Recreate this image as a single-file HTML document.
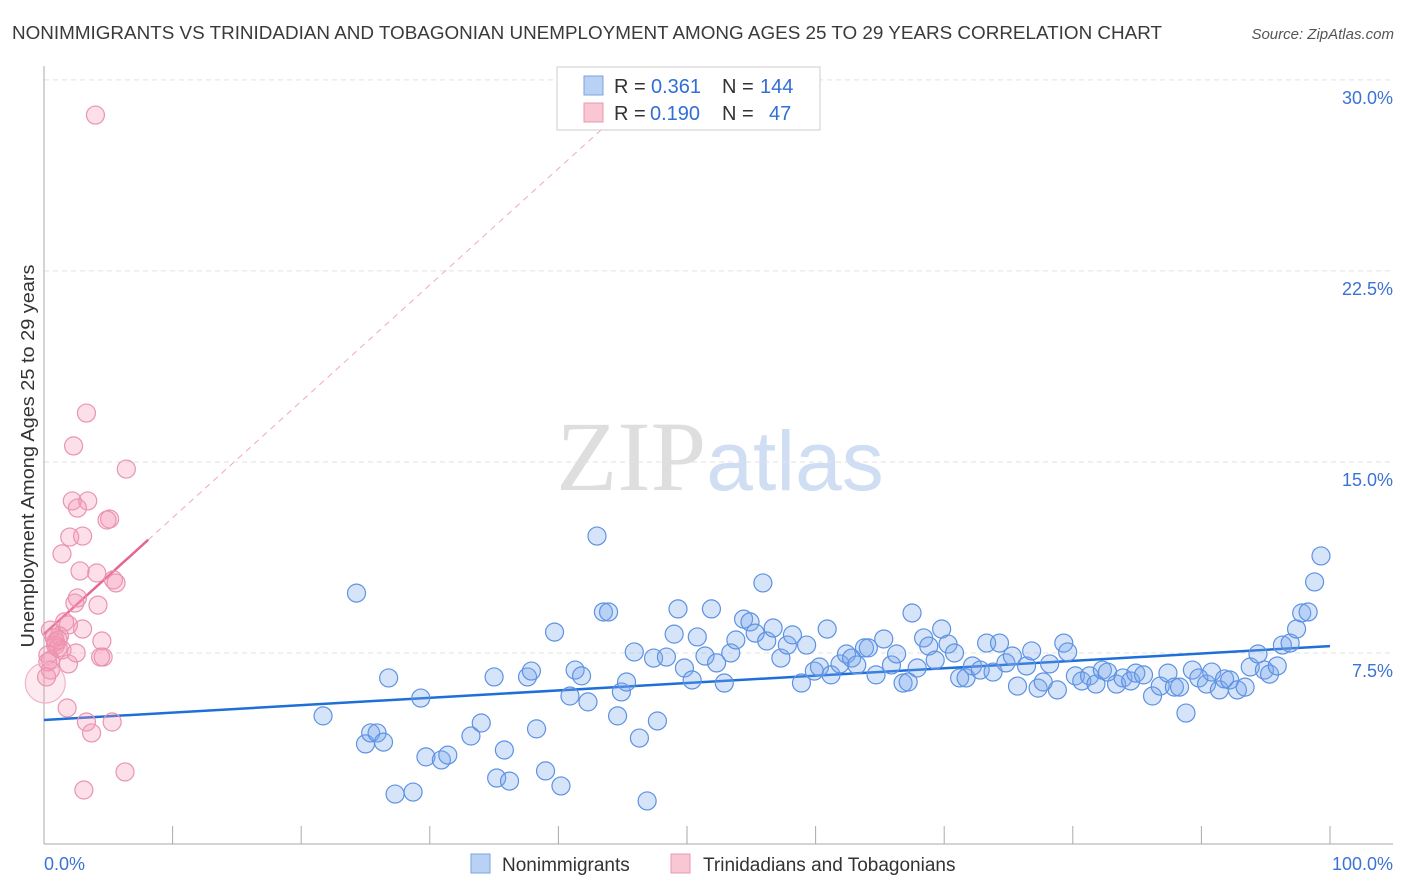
<!DOCTYPE html>
<html><head><meta charset="utf-8"><style>
body{margin:0;background:#fff;font-family:"Liberation Sans",sans-serif;}
</style></head><body>
<svg id="chart" width="1406" height="892" xmlns="http://www.w3.org/2000/svg" style="display:block">
<text x="12" y="39" font-size="18.5" fill="#3a3a3a" textLength="1150" lengthAdjust="spacingAndGlyphs">NONIMMIGRANTS VS TRINIDADIAN AND TOBAGONIAN UNEMPLOYMENT AMONG AGES 25 TO 29 YEARS CORRELATION CHART</text>
<text x="1394" y="39" font-size="15" fill="#555" text-anchor="end" font-style="italic">Source: ZipAtlas.com</text>
<text x="720" y="490" font-size="100" text-anchor="middle"><tspan font-family="Liberation Serif" fill="#dedede">ZIP</tspan><tspan fill="#d0def3" font-size="84">atlas</tspan></text>
<g id="grid"></g>
<g id="trend"></g>
<g id="points"></g>
<text transform="translate(34,456) rotate(-90)" font-size="18" fill="#333" text-anchor="middle" textLength="383" lengthAdjust="spacingAndGlyphs">Unemployment Among Ages 25 to 29 years</text>
<g>
<rect x="557" y="67" width="263" height="63" fill="#fff" stroke="#ccc"/>
<rect x="584" y="76" width="19" height="19" fill="#b9d1f5" stroke="#7aa3e0"/>
<rect x="584" y="103" width="19" height="19" fill="#f9c6d4" stroke="#e898b0"/>
<text x="614" y="93" font-size="20" fill="#333">R = <tspan x="651" fill="#2f6fd6">0.361</tspan><tspan x="722">N = </tspan><tspan x="760" fill="#2f6fd6">144</tspan></text>
<text x="614" y="120" font-size="20" fill="#333">R = <tspan x="650" fill="#2f6fd6">0.190</tspan><tspan x="722">N = </tspan><tspan x="769" fill="#2f6fd6">47</tspan></text>
</g>
<g>
<rect x="471" y="854" width="19" height="19" fill="#b9d1f5" stroke="#7aa3e0"/>
<text x="502" y="871" font-size="19" fill="#333">Nonimmigrants</text>
<rect x="671" y="854" width="19" height="19" fill="#f9c6d4" stroke="#e898b0"/>
<text x="703" y="871" font-size="19" fill="#333">Trinidadians and Tobagonians</text>
</g>
</svg>
<script>
const blueX=[21.7,24.3,25.0,25.4,25.9,26.4,26.8,27.3,28.7,29.3,29.7,30.9,31.4,33.2,34.0,35.0,35.2,35.8,36.2,37.6,37.9,38.3,39.0,39.7,40.2,40.9,41.3,41.8,42.3,43.0,43.5,43.9,44.6,44.9,45.3,45.9,46.3,46.9,47.4,47.7,48.4,49.0,49.3,49.8,50.4,50.8,51.4,51.9,52.3,52.9,53.4,53.8,54.4,54.9,55.3,55.9,56.2,56.7,57.3,57.8,58.2,58.9,59.3,59.9,60.3,60.9,61.2,61.9,62.4,62.8,63.2,63.8,64.1,64.7,65.3,65.9,66.3,66.8,67.2,67.5,67.9,68.4,68.8,69.3,69.8,70.3,70.8,71.2,71.7,72.2,72.8,73.3,73.8,74.3,74.8,75.3,75.7,76.4,76.8,77.3,77.7,78.2,78.8,79.3,79.6,80.2,80.7,81.3,81.8,82.3,82.7,83.4,83.9,84.5,84.9,85.5,86.2,86.8,87.4,87.9,88.3,88.8,89.3,89.8,90.4,90.8,91.4,91.8,92.2,92.8,93.4,93.8,94.4,94.9,95.3,95.9,96.3,96.9,97.4,97.8,98.3,98.8,99.3];
const blueY=[5.03,9.85,3.93,4.36,4.36,4.0,6.52,1.96,2.04,5.73,3.42,3.30,3.49,4.24,4.75,6.56,2.59,3.69,2.47,6.56,6.79,4.52,2.87,8.32,2.28,5.81,6.83,6.60,5.58,12.09,9.11,9.11,5.03,5.97,6.36,7.54,4.16,1.69,7.30,4.83,7.34,8.24,9.23,6.91,6.44,8.13,7.38,9.23,7.11,6.32,7.50,8.01,8.83,8.72,8.28,10.25,7.97,8.48,7.30,7.81,8.21,6.32,7.81,6.79,6.95,8.44,6.64,7.07,7.46,7.30,7.03,7.70,7.70,6.64,8.05,7.03,7.46,6.32,6.36,9.07,6.91,8.09,7.77,7.22,8.44,7.85,7.50,6.52,6.52,6.99,6.83,7.89,6.75,7.89,7.11,7.38,6.20,6.99,7.58,6.12,6.36,7.07,6.05,7.89,7.54,6.60,6.40,6.60,6.28,6.83,6.75,6.28,6.52,6.40,6.71,6.64,5.81,6.20,6.71,6.16,6.16,5.14,6.83,6.52,6.28,6.75,6.05,6.48,6.44,6.05,6.16,6.95,7.46,6.83,6.67,6.99,7.81,7.89,8.44,9.07,9.11,10.29,11.31];
const pinkX=[4.0,3.3,2.3,6.4,2.2,3.4,2.6,5.1,4.9,2.0,3.0,1.4,2.8,4.1,5.4,5.6,2.4,4.2,2.6,1.6,1.9,3.0,0.5,1.2,0.9,0.9,1.1,4.5,1.4,0.5,0.3,2.5,1.9,4.6,4.4,0.5,0.2,1.8,3.3,3.7,5.3,6.3,3.1,0.3,1.1,0.8,0.1];
const pinkY=[28.62,16.92,15.63,14.72,13.47,13.47,13.19,12.76,12.72,12.05,12.09,11.39,10.72,10.64,10.37,10.25,9.46,9.38,9.66,8.72,8.60,8.44,8.40,8.17,7.93,7.81,7.70,7.97,7.62,7.22,7.42,7.50,7.07,7.34,7.34,6.83,6.56,5.34,4.79,4.36,4.79,2.83,2.12,7.15,8.01,8.09,6.32];
const pinkR=pinkX.map((_,i)=>i===pinkX.length-1?20:9);
const yTicks=[7.5,15.0,22.5,30.0];
const xTickVals=[0,10,20,30,40,50,60,70,80,90,100];
const blueTrend=[4.87,7.77];
const pinkTrend=[8.24,0.457];
const NS="http://www.w3.org/2000/svg";
const X0=44,X1=1330,Y0=844,YS=25.47;
const sx=v=>X0+(X1-X0)*v/100, sy=v=>Y0-v*YS;
function mk(t,a,p){const e=document.createElementNS(NS,t);for(const k in a)e.setAttribute(k,a[k]);p.appendChild(e);return e;}
const grid=document.getElementById('grid');
yTicks.forEach(v=>{
 const l=mk('line',{x1:X0,x2:1393,y1:sy(v),y2:sy(v),stroke:'#e2e2e2','stroke-dasharray':'5,4'},grid);
 
 
 const t=mk('text',{x:1393,y:sy(v)+24,'font-size':18,fill:'#3b73d4','text-anchor':'end'},grid);
 t.textContent=v.toFixed(1)+'%';
 
 
});
const ax=mk('line',{x1:X0,x2:X0,y1:66,y2:Y0,stroke:'#aaa'},grid);


const bx=mk('line',{x1:X0,x2:1393,y1:Y0,y2:Y0,stroke:'#aaa'},grid);


xTickVals.forEach(v=>{
 const l=mk('line',{x1:sx(v),x2:sx(v),y1:826,y2:Y0,stroke:'#aaa'},grid);
 
 
});
[[0,'0.0%','start',44],[100,'100.0%','end',1393]].forEach(d=>{
 const t=mk('text',{x:d[3],y:870,'font-size':18,fill:'#3b73d4','text-anchor':d[2]},grid);
 t.textContent=d[1];
 
 
});
const pts=document.getElementById('points');
blueX.forEach((x,i)=>{
 const c=mk('circle',{cx:sx(x),cy:sy(blueY[i]),r:9,fill:'rgba(120,165,235,0.3)',stroke:'#5d92e3','stroke-width':1.2},pts);
 
 
});
pinkX.forEach((x,i)=>{
 const big=pinkR[i]>9;
 const c=mk('circle',{cx:sx(x),cy:sy(pinkY[i]),r:pinkR[i],fill:big?'rgba(245,150,180,0.2)':'rgba(245,150,180,0.3)',stroke:big?'#f0b4c6':'#e994b0','stroke-width':1.2},pts);
 
 
});
const tr=document.getElementById('trend');
const b=mk('line',{x1:sx(0),y1:sy(blueTrend[0]),x2:sx(100),y2:sy(blueTrend[1]),stroke:'#1f6fd8','stroke-width':2.5},tr);


const pe=(30-pinkTrend[0])/pinkTrend[1];
const pd=mk('line',{x1:sx(8.1),y1:sy(pinkTrend[0]+pinkTrend[1]*8.1),x2:sx(pe),y2:sy(30),stroke:'#f0a8bd','stroke-width':1,'stroke-dasharray':'6,5'},tr);


const p=mk('line',{x1:sx(0),y1:sy(pinkTrend[0]),x2:sx(8.1),y2:sy(pinkTrend[0]+pinkTrend[1]*8.1),stroke:'#e5668e','stroke-width':2.5},tr);


</script>
</body></html>
